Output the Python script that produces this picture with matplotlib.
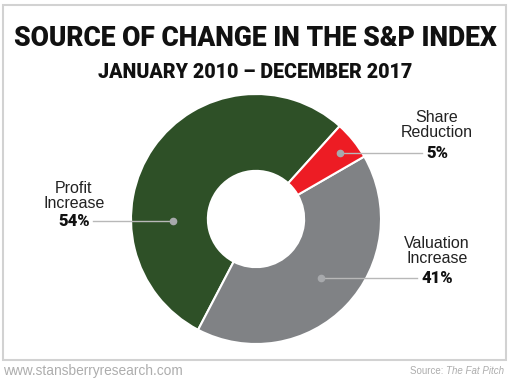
import matplotlib.pyplot as plt
from matplotlib.patches import Rectangle

# data
labels = ["Profit\nIncrease", "Valuation\nIncrease", "Share\nReduction"]
shares = [54, 41, 5]
colors = ["#2e5027", "#808285", "#ed1c24"]

W, H = 510, 378
fig = plt.figure(figsize=(W / 100, H / 100), dpi=100)
renderer = fig.canvas.get_renderer()

# background axes in pixel units (y down) for text, border and leaders
bg = fig.add_axes([0, 0, 1, 1])
bg.set_xlim(0, W)
bg.set_ylim(H, 0)
bg.axis("off")

bg.add_patch(Rectangle((3.5, 4.5), 503, 355.5, fill=False, ec="#d2d2d2", lw=1.5))


def fit_text(x, y, s, width, **kw):
    # shrink/grow font so the text spans the given pixel width
    t = bg.text(x, y, s, **kw)
    w = t.get_window_extent(renderer).width
    t.set_fontsize(t.get_fontsize() * width / w)
    return t


fit_text(255, 39, "SOURCE OF CHANGE IN THE S&P INDEX", 484, ha="center", va="center",
         family="Roboto", weight="black", fontsize=20, color="#111111")
fit_text(255, 72, "JANUARY 2010 \u2013 DECEMBER 2017", 315, ha="center", va="center",
         family="Roboto", weight="black", fontsize=14, color="#111111")

fit_text(3, 371, "www.stansberryresearch.com", 181, ha="left", va="center",
         family="Liberation Sans", fontsize=10, color="#adadad")
src = bg.text(504, 371, "The Fat Pitch", ha="right", va="center", family="Liberation Sans",
              fontsize=7, style="italic", color="#adadad")
sw = src.get_window_extent(renderer).width
bg.text(504 - sw, 371, "Source: ", ha="right", va="center", family="Liberation Sans",
        fontsize=7, color="#adadad")

# donut
cx, cy, R = 256, 219, 125
ax = fig.add_axes([(cx - R) / W, (H - cy - R) / H, 2 * R / W, 2 * R / H])
ax.pie(shares, colors=colors, startangle=48, counterclock=True, radius=1,
       wedgeprops=dict(width=0.615, edgecolor="white", linewidth=1.5))
ax.set_xlim(-1, 1)
ax.set_ylim(-1, 1)
ax.set_aspect("equal")
ax.axis("off")

# labels: (text x, name y, pct y, line end x, dot x)
label_pos = [(74, 196, 221, 93, 173),
             (437, 251, 278, 417, 321),
             (437, 125, 153, 422, 340)]
for lab, pct, (tx, ny, py, lx, dx) in zip(labels, shares, label_pos):
    bg.text(tx, ny, lab, ha="center", va="center", family="Liberation Sans",
            fontsize=11.5, color="#222222", linespacing=1.0)
    bg.text(tx, py, "%d%%" % pct, ha="center", va="center", family="Roboto",
            weight="black", fontsize=12, color="#111111")
    bg.plot([lx, dx], [py, py], color="#b8b8b8", lw=1, zorder=5)
    bg.plot([dx], [py], "o", color="#a7a9ac", ms=4.5, zorder=6)

bg.set_zorder(3)
bg.patch.set_alpha(0)

fig.savefig("out.png", dpi=100)
